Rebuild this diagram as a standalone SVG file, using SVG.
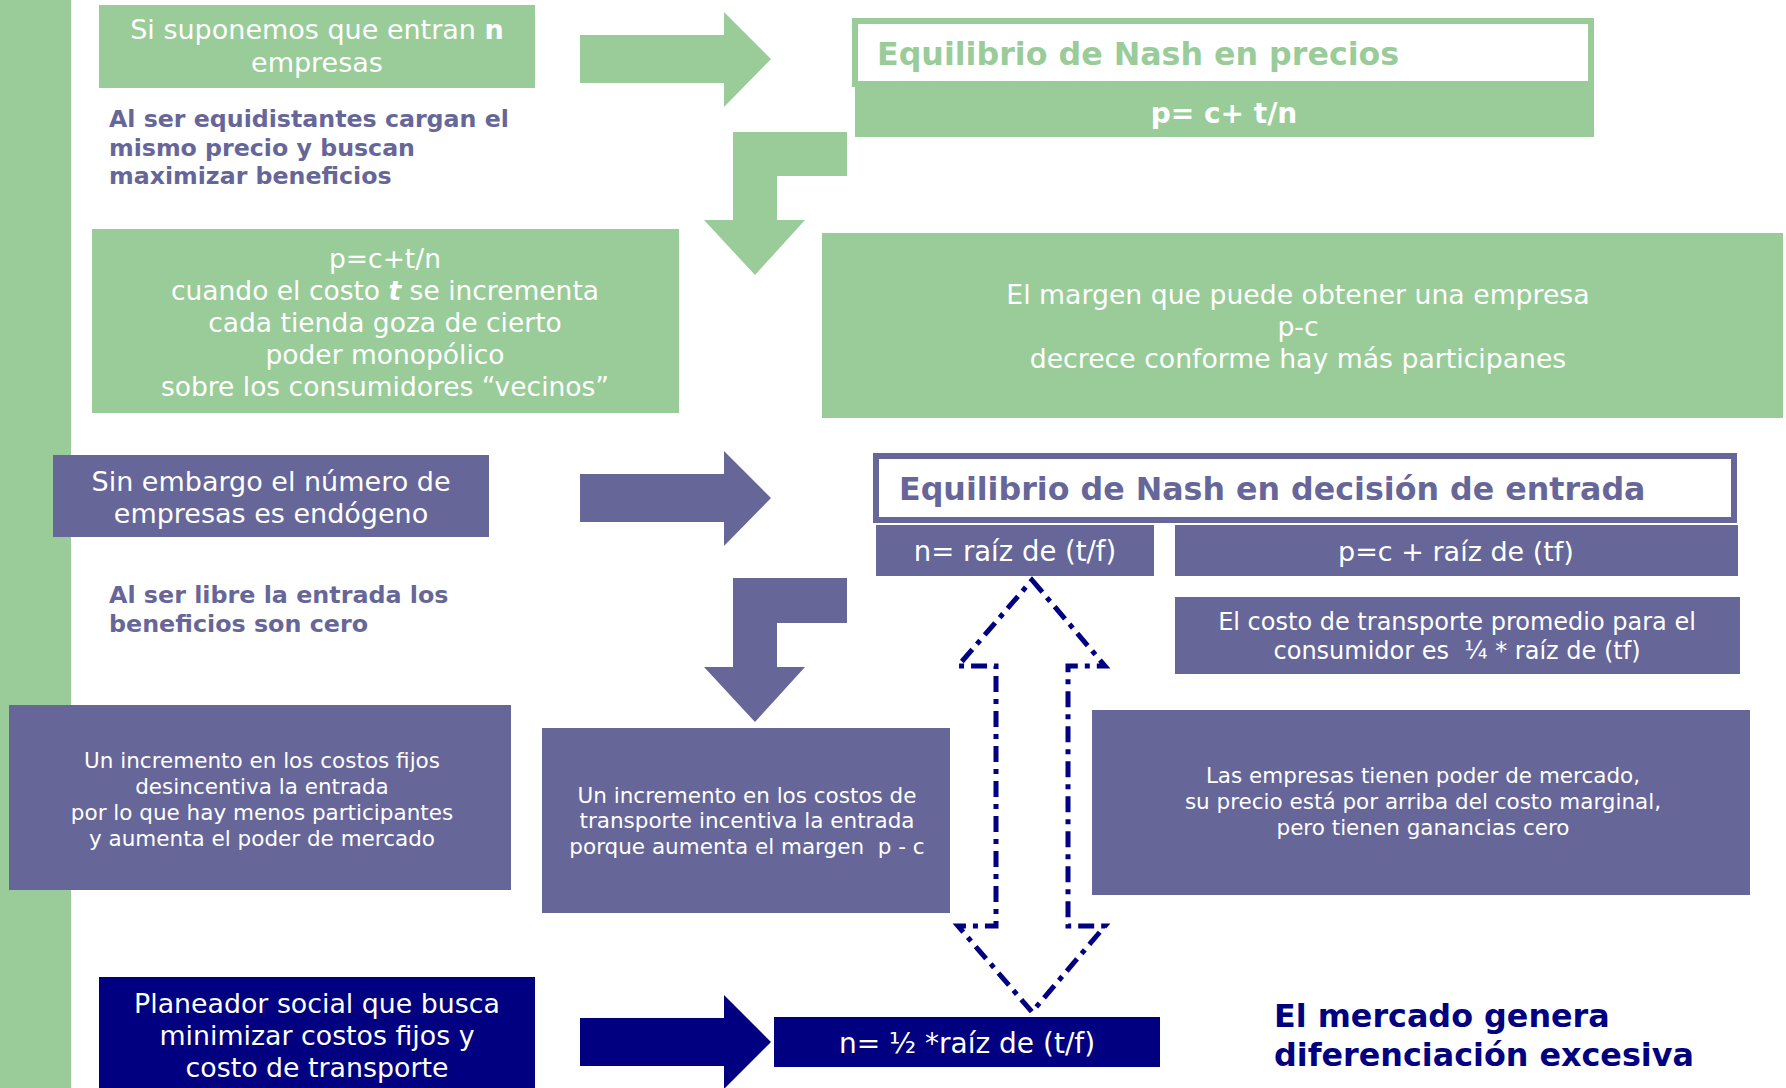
<svg xmlns="http://www.w3.org/2000/svg" width="1786" height="1088" viewBox="0 0 1786 1088">
<style>
text{font-family:"DejaVu Sans","Verdana",sans-serif}
.w{fill:#fff}
.c{text-anchor:middle}
.g{fill:#99CC99}
.p{fill:#666699}
.n{fill:#000080}
.b{font-weight:bold}
</style>
<rect x="0" y="0" width="1786" height="1088" fill="#fff"/>
<rect x="0" y="0" width="71" height="1088" class="g"/>
<g id="connectors">
<polygon class="g" points="580,35 724,35 724,12 771,59 724,107 724,83 580,83"/>
<polygon class="g" points="847,132 733,132 733,220 704,220 755,275 805,220 777,220 777,176 847,176"/>
<polygon class="p" points="580,474 724,474 724,451 771,498 724,546 724,522 580,522"/>
<polygon class="p" points="847,578 733,578 733,667 704,667 755,722 805,667 777,667 777,623 847,623"/>
<polygon class="n" points="580,1018 724,1018 724,995 771,1042 724,1089 724,1066 580,1066"/>
<polygon fill="none" stroke="#000080" stroke-width="5" stroke-dasharray="16 7 5 7" points="1032,580 1105,666 1068,666 1068,926 1105,926 1032,1012 958,926 996,926 996,666 958,666"/>
</g>
<g id="n1"><rect x="99" y="5" width="436" height="83" class="g"/>
<text class="w c" font-size="27" x="317" y="39">Si suponemos que entran <tspan class="b">n</tspan></text>
<text class="w c" font-size="27" x="317" y="72">empresas</text></g>
<g id="n2"><text class="p b" font-size="23.7"><tspan x="109" y="127">Al ser equidistantes cargan el</tspan><tspan x="109" y="156">mismo precio y buscan</tspan><tspan x="109" y="184">maximizar beneficios</tspan></text></g>
<g id="n3"><rect x="855" y="21" width="736" height="63" fill="#fff" stroke="#99CC99" stroke-width="6"/>
<text class="g b" font-size="31.7" x="877" y="65">Equilibrio de Nash en precios</text>
<rect x="855" y="87" width="739" height="50" class="g"/>
<text class="w b c" font-size="28" x="1224" y="123">p= c+ t/n</text></g>
<g id="n4"><rect x="92" y="229" width="587" height="184" class="g"/>
<text class="w c" font-size="26.5"><tspan x="385" y="268">p=c+t/n</tspan><tspan x="385" y="300">cuando el costo <tspan class="b" font-style="italic">t</tspan> se incrementa</tspan><tspan x="385" y="332">cada tienda goza de cierto</tspan><tspan x="385" y="364">poder monopólico</tspan><tspan x="385" y="396">sobre los consumidores “vecinos”</tspan></text></g>
<g id="n5"><rect x="822" y="233" width="961" height="185" class="g"/>
<text class="w c" font-size="26.7"><tspan x="1298" y="304">El margen que puede obtener una empresa</tspan><tspan x="1298" y="336">p-c</tspan><tspan x="1298" y="368">decrece conforme hay más participanes</tspan></text></g>
<g id="n6"><rect x="53" y="455" width="436" height="82" class="p"/>
<text class="w c" font-size="27"><tspan x="271" y="491">Sin embargo el número de</tspan><tspan x="271" y="523">empresas es endógeno</tspan></text></g>
<g id="n7"><text class="p b" font-size="23.8"><tspan x="109" y="603">Al ser libre la entrada los</tspan><tspan x="109" y="632">beneficios son cero</tspan></text></g>
<g id="n8"><rect x="876" y="456" width="858" height="64" fill="#fff" stroke="#666699" stroke-width="6"/>
<text class="p b" font-size="31.7" x="899" y="500">Equilibrio de Nash en decisión de entrada</text></g>
<g id="n9"><rect x="876" y="525" width="278" height="51" class="p"/>
<text class="w c" font-size="27.5" x="1015" y="561">n= raíz de (t/f)</text></g>
<g id="n10"><rect x="1175" y="525" width="563" height="51" class="p"/>
<text class="w c" font-size="27" x="1456" y="561">p=c + raíz de (tf)</text></g>
<g id="n11"><rect x="1175" y="597" width="565" height="77" class="p"/>
<text class="w c" font-size="24" xml:space="preserve"><tspan x="1457" y="630">El costo de transporte promedio para el</tspan><tspan x="1457" y="659">consumidor es  ¼ * raíz de (tf)</tspan></text></g>
<g id="n12"><rect x="9" y="705" width="502" height="185" class="p"/>
<text class="w c" font-size="21.5"><tspan x="262" y="768">Un incremento en los costos fijos</tspan><tspan x="262" y="794">desincentiva la entrada</tspan><tspan x="262" y="820">por lo que hay menos participantes</tspan><tspan x="262" y="846">y aumenta el poder de mercado</tspan></text></g>
<g id="n13"><rect x="542" y="728" width="408" height="185" class="p"/>
<text class="w c" font-size="21.5" xml:space="preserve"><tspan x="747" y="803">Un incremento en los costos de</tspan><tspan x="747" y="828">transporte incentiva la entrada</tspan><tspan x="747" y="854">porque aumenta el margen  p - c</tspan></text></g>
<g id="n14"><rect x="1092" y="710" width="658" height="185" class="p"/>
<text class="w c" font-size="21.5"><tspan x="1423" y="783">Las empresas tienen poder de mercado,</tspan><tspan x="1423" y="809">su precio está por arriba del costo marginal,</tspan><tspan x="1423" y="835">pero tienen ganancias cero</tspan></text></g>
<g id="n15"><rect x="99" y="977" width="436" height="111" class="n"/>
<text class="w c" font-size="26.8"><tspan x="317" y="1013">Planeador social que busca</tspan><tspan x="317" y="1045">minimizar costos fijos y</tspan><tspan x="317" y="1077">costo de transporte</tspan></text></g>
<g id="n16"><rect x="774" y="1017" width="386" height="50" class="n"/>
<text class="w c" font-size="28" x="967" y="1053">n= ½ *raíz de (t/f)</text></g>
<g id="n17"><text class="n b" font-size="31.8"><tspan x="1274" y="1027">El mercado genera</tspan><tspan x="1274" y="1066">diferenciación excesiva</tspan></text></g>
</svg>
